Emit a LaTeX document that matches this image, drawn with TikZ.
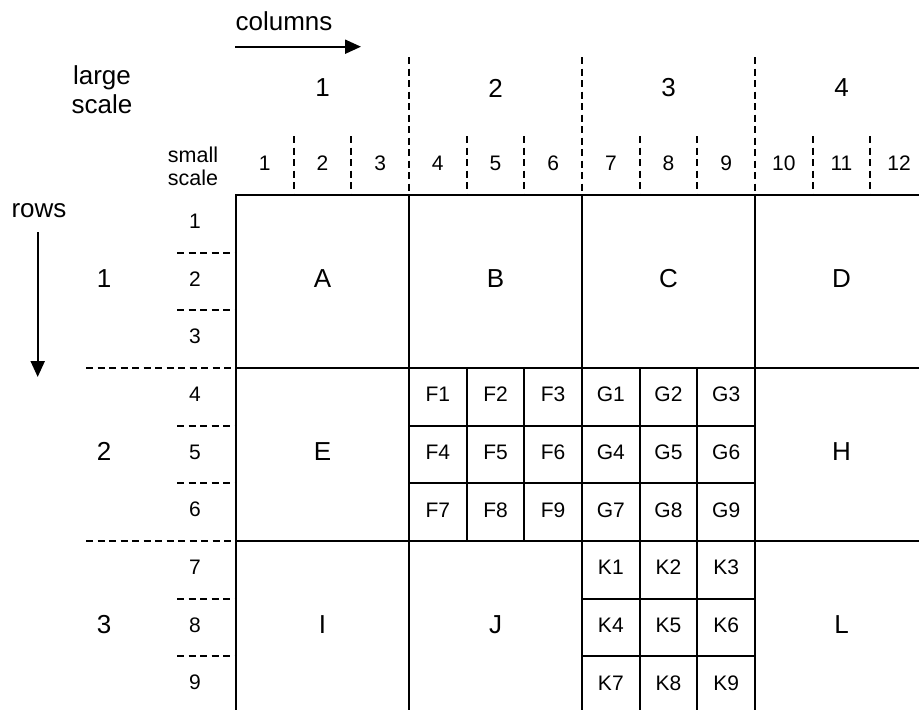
\documentclass[tikz,border=0pt]{standalone}
\usepackage{fontspec}
\setmainfont{Liberation Sans}
\usetikzlibrary{arrows.meta}
\begin{document}
\begin{tikzpicture}[x=1pt,y=-1pt,
  gridline/.style={line width=2.1pt, line cap=rect},
  dashline/.style={line width=2pt, dash pattern=on 7pt off 4.5pt},
  big/.style={inner sep=0pt, font=\fontsize{26}{29}\selectfont},
  smalltxt/.style={inner sep=0pt, font=\fontsize{21}{23}\selectfont},
  cellt/.style={inner sep=0pt, font=\fontsize{21}{23}\selectfont},
  arr/.style={line width=2.1pt, -{Triangle[length=16pt,width=14pt]}}]
\useasboundingbox (0,0) rectangle (919,710);
\def\sw{57.667}
% headers
\node[big] (columns) at (284,21.7) {columns};
\coordinate (ca) at (235,46.7);
\coordinate (cb) at (361,46.7);
\draw[arr] (ca) -- (cb);
\node[big, align=center] (large) at (102,90) {large\\scale};
\node[smalltxt, align=center, font=\fontsize{21.5}{23}\selectfont] (smallsc) at (193,166) {small\\scale};
\node[big] (rows) at (39,210.5) {rows};
\coordinate (ra) at (37.7,232);
\coordinate (rb) at (37.7,377);
\draw[arr] (ra) -- (rb);
% large column labels
\foreach \k in {1,2,3,4}
  \node[big] (lc\k) at ({236+173*(\k-0.5)},88) {\k};
% small column labels
\foreach \k in {1,...,12}
  \node[smalltxt] (sc\k) at ({236+\sw*(\k-0.5)},163) {\k};
% large row labels
\foreach \k in {1,2,3}
  \node[big] (lr\k) at (104,{195+173*(\k-0.5)-3}) {\k};
% small row labels
\foreach \k in {1,...,9}
  \node[smalltxt] (sr\k) at (195,{195+\sw*(\k-0.5)-2.5}) {\k};
% column dashed dividers
\foreach \k in {1,2,3}
  \draw[dashline] ({236+173*\k},57) -- ({236+173*\k},195);
\foreach \k in {1,2,4,5,7,8,10,11}
  \draw[dashline] ({236+\sw*\k},136) -- ({236+\sw*\k},195);
% row dashed dividers
\foreach \k in {3,6}
  \draw[dashline] (86,{195+\sw*\k}) -- (236,{195+\sw*\k});
\foreach \k in {1,2,4,5,7,8}
  \draw[dashline] (177,{195+\sw*\k}) -- (236,{195+\sw*\k});
% main grid
\foreach \x in {236,409,582,755}
  \draw[gridline] (\x,195) -- (\x,712);
\foreach \y in {195,368,541}
  \draw[gridline] (236,\y) -- (921,\y);
% sub grids F, G, K
\foreach \k in {1,2}{
  \draw[gridline] ({409+\sw*\k},368) -- ({409+\sw*\k},541);
  \draw[gridline] ({582+\sw*\k},368) -- ({582+\sw*\k},712);
  \draw[gridline] (409,{368+\sw*\k}) -- (755,{368+\sw*\k});
  \draw[gridline] (582,{541+\sw*\k}) -- (755,{541+\sw*\k});
}
% big cell letters
\node[big] (A) at (322.5,278.5) {A};
\node[big] (B) at (495.5,278.5) {B};
\node[big] (C) at (668.5,278.5) {C};
\node[big] (D) at (841.5,278.5) {D};
\node[big] (E) at (322.5,451.5) {E};
\node[big] (H) at (841.5,451.5) {H};
\node[big] (I) at (322.5,624.5) {I};
\node[big] (J) at (495.5,624.5) {J};
\node[big] (L) at (841.5,624.5) {L};
% small cell labels
\foreach \r in {0,1,2}
  \foreach \c in {0,1,2}{
    \pgfmathtruncatemacro{\n}{3*\r+\c+1}
    \node[cellt] (F\n) at ({409+\sw*(\c+0.5)},{368+\sw*(\r+0.5)-2.3}) {F\n};
    \node[cellt] (G\n) at ({582+\sw*(\c+0.5)},{368+\sw*(\r+0.5)-2.3}) {G\n};
    \node[cellt] (K\n) at ({582+\sw*(\c+0.5)},{541+\sw*(\r+0.5)-2.3}) {K\n};
  }
\end{tikzpicture}
\end{document}
